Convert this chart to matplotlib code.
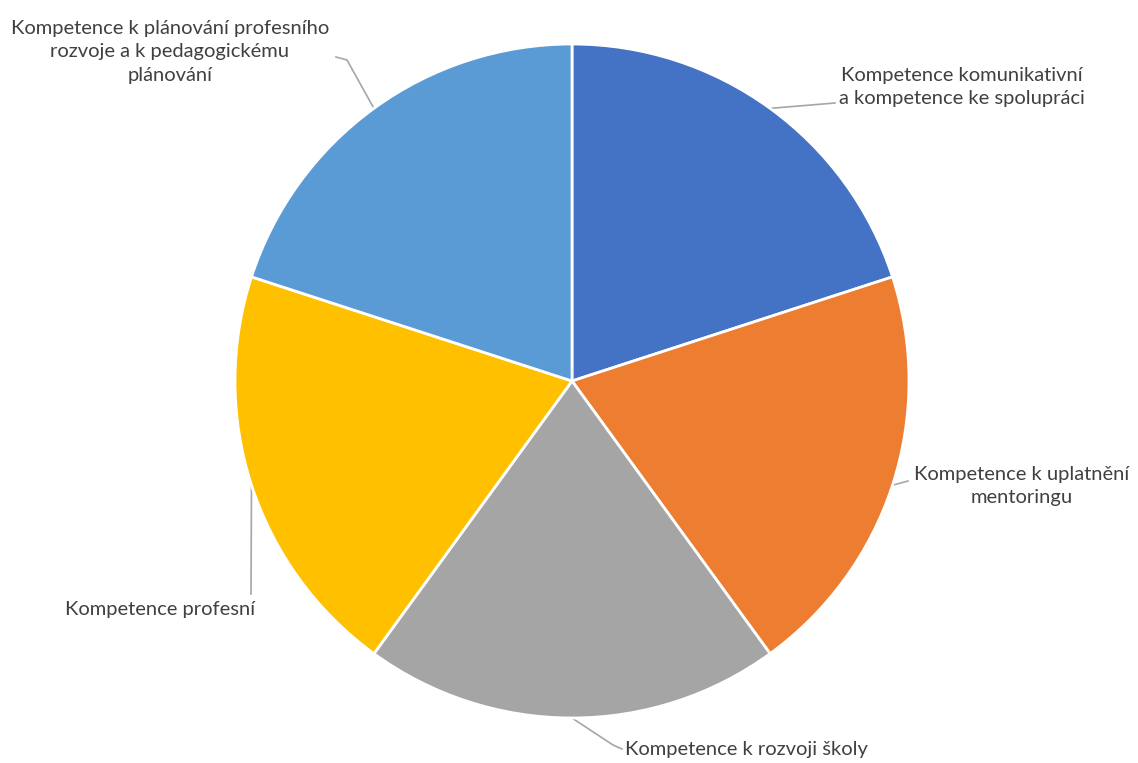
import numpy as np
import matplotlib
matplotlib.use("Agg")
import matplotlib.pyplot as plt

# --- data ---
labels = [
    "Kompetence komunikativní\na kompetence ke spolupráci",
    "Kompetence k uplatnění\nmentoringu",
    "Kompetence k rozvoji školy",
    "Kompetence profesní",
    "Kompetence k plánování profesního\nrozvoje a k pedagogickému\nplánování",
]
values = [1, 1, 1, 1, 1]
colors = ["#4472C4", "#ED7D31", "#A5A5A5", "#FFC000", "#5B9BD5"]

# --- layout (pixel coords, y measured from top) ---
W, H = 1138, 763
cx, cy, r = 572, 381, 337
text_pos = [(962, 87), (1022, 486), (745, 750), (160, 610), (170, 52)]
text_ha = ["center", "center", "left", "center", "center"]
# leader line points after the wedge edge point
leader_pts = [
    [(835, 103)],
    [(897, 484), (908, 481)],
    [(613, 745), (622, 749)],
    [(251, 594)],
    [(347, 60), (336, 57)],
]

plt.rcParams["font.family"] = ["Lato", "DejaVu Sans"]
fig = plt.figure(figsize=(W / 100, H / 100), dpi=100)
ax = fig.add_axes([0, 0, 1, 1])

wedges, _ = ax.pie(values, colors=colors, startangle=90, counterclock=False,
                   center=(cx, H - cy), radius=r,
                   wedgeprops=dict(edgecolor="white", linewidth=2))
ax.set_xlim(0, W)
ax.set_ylim(0, H)
ax.set_aspect("equal")
ax.axis("off")

for w, lab, (tx, ty), ha, pts in zip(wedges, labels, text_pos, text_ha, leader_pts):
    mid = np.deg2rad((w.theta1 + w.theta2) / 2)
    ex = cx + r * np.cos(mid)
    ey = (H - cy) + r * np.sin(mid)
    xs = [ex] + [p[0] for p in pts]
    ys = [ey] + [H - p[1] for p in pts]
    ax.plot(xs, ys, color="#A6A6A6", lw=1.2, zorder=0)
    x = 625 if ha == "left" else tx
    ax.text(x, H - ty, lab, ha=ha, va="center", multialignment="center",
            fontsize=14.5, color="#404040", linespacing=1.48)

fig.savefig("out.png", dpi=100, facecolor="white")
